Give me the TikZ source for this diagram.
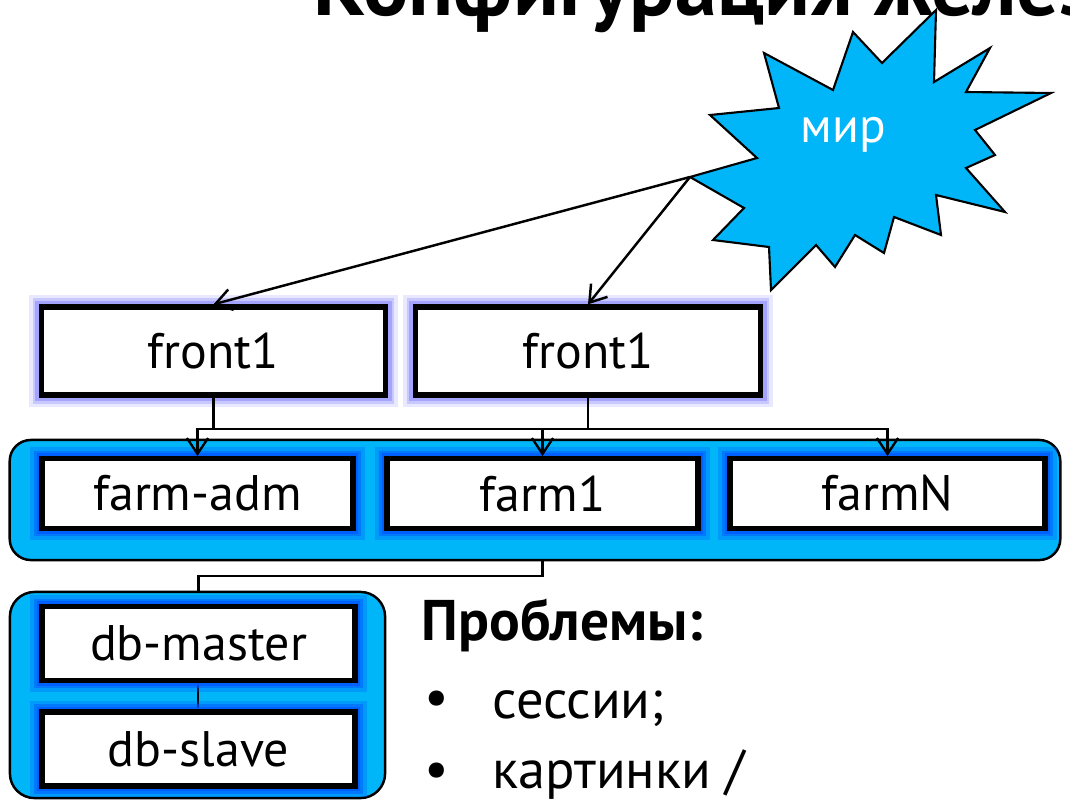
\documentclass[tikz,border=0pt]{standalone}
\usepackage{fontspec}
\setmainfont{PT Sans}
\usetikzlibrary{arrows.meta}

\definecolor{skycyan}{RGB}{0,182,248}
\definecolor{frontglow}{RGB}{140,140,255}
\definecolor{farmglow}{RGB}{0,90,255}

\tikzset{
  hostbox/.style={draw=black,line width=1.5pt,fill=white,inner sep=0pt,
    font=\fontsize{14.2}{16}\selectfont},
  frontbox/.style={hostbox,
    preaction={draw=frontglow,line width=7pt,draw opacity=0.2,rounded corners=4pt},
    preaction={draw=frontglow,line width=5pt,draw opacity=0.35,rounded corners=3pt},
    preaction={draw=frontglow,line width=3.5pt,draw opacity=0.6,rounded corners=1pt}},
  farmbox/.style={hostbox,
    preaction={draw=farmglow,line width=6.5pt,draw opacity=0.3,rounded corners=4pt},
    preaction={draw=farmglow,line width=4.5pt,draw opacity=0.5,rounded corners=3pt},
    preaction={draw=farmglow,line width=3pt,draw opacity=0.8,rounded corners=1pt}},
  groupbox/.style={draw=black,line width=0.7pt,fill=skycyan,inner sep=0pt},
  sidetext/.style={font=\fontsize{15.5}{18}\selectfont,inner sep=0pt}
}

\begin{document}
\begin{tikzpicture}[x=0.01cm,y=-0.01cm,
  >={Straight Barb[length=4.5pt,width=6pt]}]
\useasboundingbox (0,0) rectangle (1070,800);

\node[anchor=base west,inner sep=0pt,font=\bfseries\fontsize{24}{28}\selectfont] (title) at (313,15) {Конфигурация железа};

% -- the world
\draw[fill=skycyan,line width=0.6pt] (936,10) -- (934,82) -- (990,48) -- (966,92) -- (1051,93)
  -- (975,130) -- (995,155) -- (966,168) -- (1005,212) -- (936,195) -- (941,235)
  -- (894,217) -- (884,253) -- (855,235) -- (835,267) -- (816,245) -- (771,290)
  -- (769,247) -- (713,240) -- (744,208) -- (690,177) -- (757,158) -- (710,115)
  -- (779,108) -- (764,53) -- (833,90) -- (853,32) -- (882,63) -- cycle;
\node[text=white,font=\fontsize{14}{16}\selectfont] (mir) at (843,135) {мир};
\coordinate (src) at (690,177);

% -- groups
\node[groupbox,rounded corners=6pt,minimum width=10.5cm,minimum height=1.2cm] (farms) at (535,500) {};
\node[groupbox,rounded corners=7pt,minimum width=3.75cm,minimum height=2.06cm] (dbs) at (197.5,695) {};

% -- front
\node[frontbox,minimum width=3.44cm,minimum height=0.88cm] (front1) at (213.5,351) {front1};
\node[frontbox,minimum width=3.45cm,minimum height=0.88cm] (front2) at (588,351) {front1};

% -- farm
\node[farmbox,minimum width=3.11cm,minimum height=0.7cm] (farmadm) at (197.5,493.5) {farm-adm};
\node[farmbox,minimum width=3.11cm,minimum height=0.7cm] (farm1) at (542.5,493.5) {farm1};
\node[farmbox,minimum width=3.15cm,minimum height=0.7cm] (farmN) at (887.5,493.5) {farmN};

% -- db
\draw[line width=0.6pt] (198,682) -- (198,710);
\node[farmbox,minimum width=3.13cm,minimum height=0.74cm] (dbmaster) at (198.5,643.5) {db-master};
\node[farmbox,minimum width=3.13cm,minimum height=0.74cm] (dbslave) at (198.5,749) {db-slave};

% -- draw arrows
\draw[->,line width=0.7pt] (src) -- (front1.north);
\draw[->,line width=0.7pt] (src) -- (front2.north);

\draw[->,line width=0.6pt] (front1.south) -- ++(0,31) -| (farmadm.north);
\draw[->,line width=0.6pt] (front1.south) -- ++(0,31) -| (farm1.north);
\draw[->,line width=0.6pt] (front1.south) -- ++(0,31) -| (farmN.north);
\draw[->,line width=0.6pt] (front2.south) -- ++(0,31) -| (farmadm.north);
\draw[->,line width=0.6pt] (front2.south) -- ++(0,31) -| (farm1.north);
\draw[->,line width=0.6pt] (front2.south) -- ++(0,31) -| (farmN.north);

\draw[line width=0.6pt] (farm1.south |- farms.south) -- ++(0,15) -| (dbmaster.north |- dbs.north);

% -- problems
\node[sidetext,anchor=base west,font=\bfseries\fontsize{16.3}{18}\selectfont] (problems) at (421,640) {Проблемы:};
\node[sidetext] (bullet1) at (437,703) {•};
\node[sidetext,anchor=base west] (sessions) at (492,718) {сессии;};
\node[sidetext] (bullet2) at (437,775) {•};
\node[sidetext,anchor=base west] (images) at (492,788) {картинки /};
\end{tikzpicture}
\end{document}
